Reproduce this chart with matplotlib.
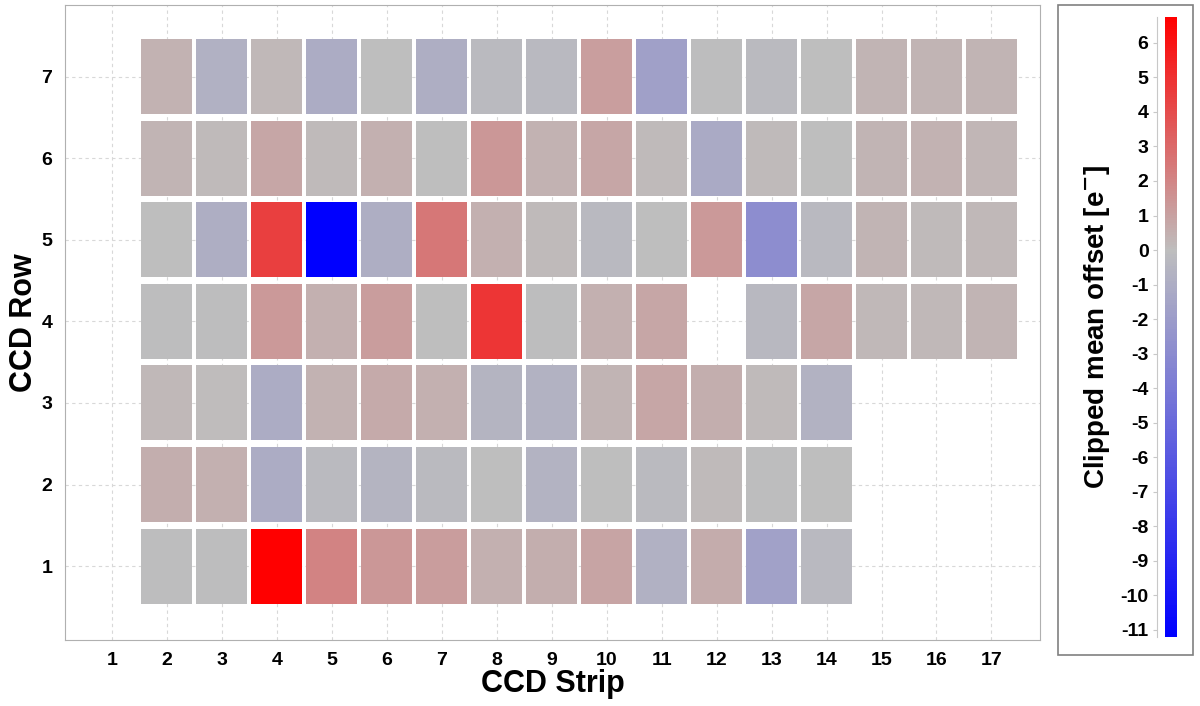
import matplotlib
matplotlib.use('Agg')
import matplotlib.pyplot as plt
import numpy as np
from matplotlib.colors import LinearSegmentedColormap, Normalize
from matplotlib.patches import Rectangle

plt.rcParams['font.family'] = ['Liberation Sans', 'DejaVu Sans']
plt.rcParams['font.weight'] = 'bold'
plt.rcParams['axes.unicode_minus'] = False
plt.rcParams['mathtext.default'] = 'bf'

strips = np.arange(2, 18)
rows = np.arange(1, 8)
nan = np.nan

# clipped mean offset per CCD, rows 1..7, strips 2..17
offset_row1 = [-0.1, -0.1, 6.7, 2.1, 1.4, 1.2, 0.5, 0.55, 0.9, -0.8, 0.6, -1.7, -0.3, nan, nan, nan]
offset_row2 = [0.55, 0.5, -1.1, -0.2, -0.6, -0.25, 0.0, -0.65, 0.0, -0.2, 0.1, -0.1, 0.0, nan, nan, nan]
offset_row3 = [0.2, 0.05, -1.1, 0.4, 0.7, 0.45, -0.6, -0.75, 0.3, 0.85, 0.55, 0.15, -0.75, nan, nan, nan]
offset_row4 = [-0.1, -0.1, 1.3, 0.45, 1.2, 0.0, 4.8, -0.1, 0.5, 0.8, nan, -0.35, 0.8, 0.2, 0.2, 0.3]
offset_row5 = [0.0, -0.9, 4.5, -11.2, -0.9, 2.5, 0.5, 0.1, -0.3, -0.05, 1.3, -2.9, -0.3, 0.3, 0.15, 0.2]
offset_row6 = [0.3, 0.1, 0.8, 0.1, 0.5, 0.0, 1.4, 0.4, 0.8, 0.15, -1.2, 0.15, 0.0, 0.3, 0.4, 0.25]
offset_row7 = [0.4, -0.8, 0.2, -1.1, 0.0, -0.9, -0.2, -0.3, 1.1, -1.8, -0.1, -0.2, 0.0, 0.3, 0.3, 0.3]
offsets = [offset_row1, offset_row2, offset_row3, offset_row4, offset_row5, offset_row6, offset_row7]

vmin, vmax = -11.2, 6.75
mid = (0 - vmin) / (vmax - vmin)
cmap = LinearSegmentedColormap.from_list(
    'bgr', [(0.0, (0, 0, 1)), (mid, (0.745, 0.745, 0.745)), (1.0, (1, 0, 0))])
norm = Normalize(vmin, vmax)

fig = plt.figure(figsize=(12, 7.06), dpi=100)
ax = fig.add_axes([0.054, 0.0935, 0.813, 0.8995])

for r, vals in zip(rows, offsets):
    vals = np.array(vals)
    ok = ~np.isnan(vals)
    ax.bar(strips[ok], 0.92, width=0.93, bottom=r - 0.46,
           color=cmap(norm(vals[ok])), edgecolor='none', zorder=2)

ax.set_xlim(0.144, 17.89)
ax.set_ylim(0.094, 7.88)
ax.set_xticks(np.arange(1, 18))
ax.set_yticks(rows)
ax.tick_params(length=0, labelsize=14, pad=9)
ax.grid(True, ls=(0, (3, 3)), color='#d8d8d8', lw=0.8, zorder=0)
ax.set_axisbelow(True)
for s in ax.spines.values():
    s.set_color('#b0b0b0')
ax.set_xlabel('CCD Strip', fontsize=22, fontweight='bold', labelpad=0)
ax.set_ylabel('CCD Row', fontsize=22, fontweight='bold', labelpad=2)

# colorbar in a framed box
fig.patches.append(Rectangle((0.882, 0.072), 0.1125, 0.921, transform=fig.transFigure,
                             fill=False, edgecolor='#808080', lw=1.2))
cax = fig.add_axes([0.971, 0.098, 0.010, 0.878])
sm = plt.cm.ScalarMappable(norm=norm, cmap=cmap)
cb = fig.colorbar(sm, cax=cax)
cb.outline.set_visible(False)
cb.set_ticks(np.arange(-11, 7))
cax.yaxis.set_ticks_position('left')
cax.yaxis.set_label_position('left')
cax.spines['left'].set_visible(True)
cax.spines['left'].set_position(('outward', 6))
cax.spines['left'].set_color('#c8c8c8')
cax.tick_params(axis='y', length=3, color='#c8c8c8', labelsize=14, pad=3)
cb.set_label('Clipped mean offset [e$^{-}$]', fontsize=20, fontweight='bold', labelpad=6)

fig.savefig('out.png', dpi=100)
